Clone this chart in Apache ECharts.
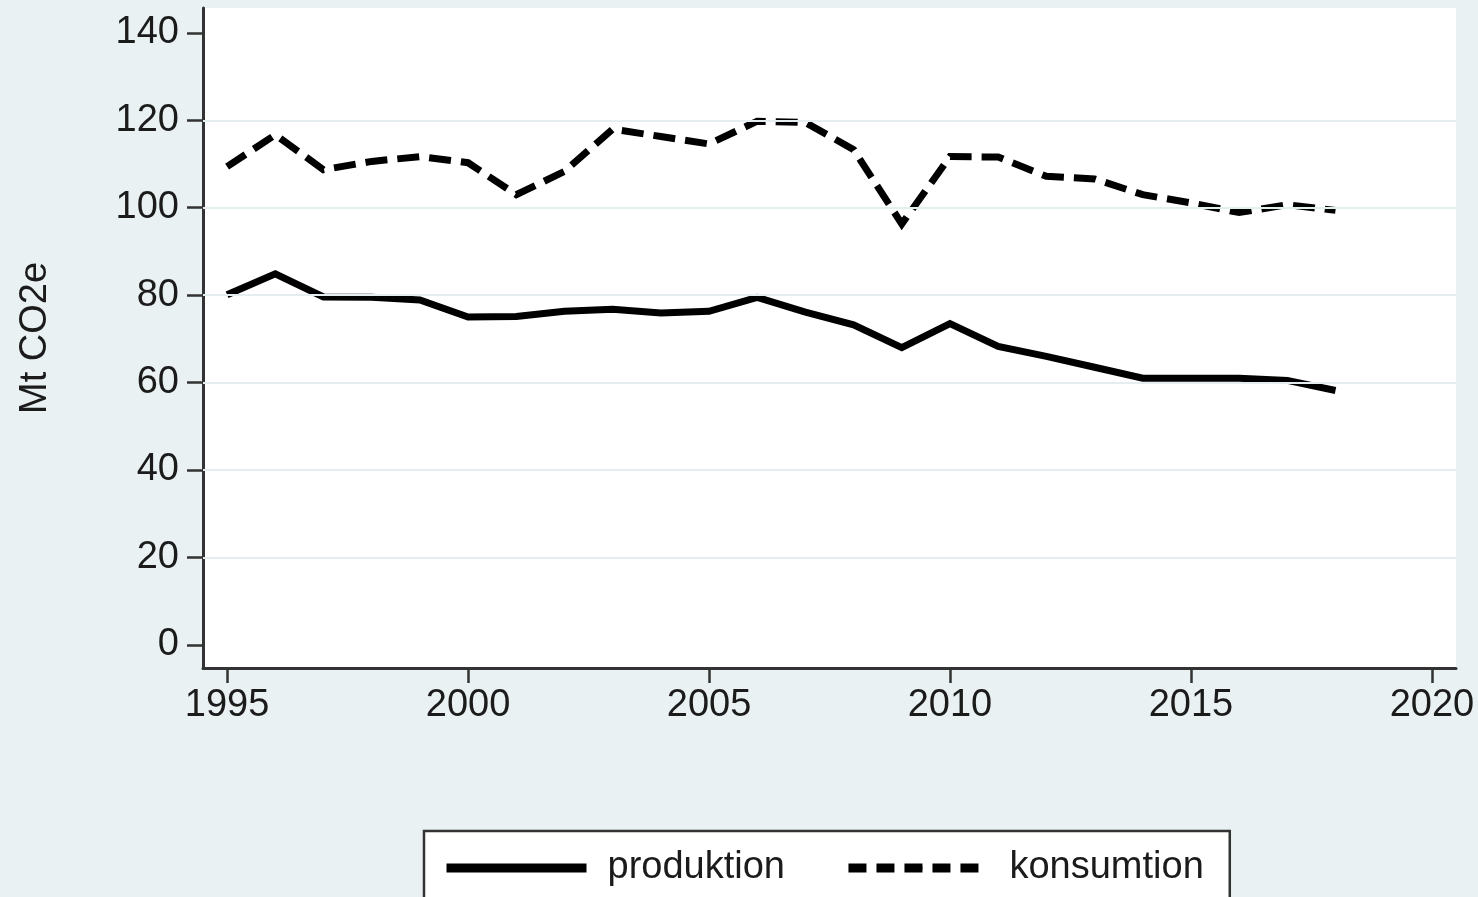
<!DOCTYPE html>
<html>
<head>
<meta charset="utf-8">
<script src="https://cdn.jsdelivr.net/npm/echarts@6/dist/echarts.min.js"></script>
<style>
  html, body { margin: 0; padding: 0; background: #e9f1f3; }
  #chart { width: 1478px; height: 897px; }
</style>
</head>
<body>
<div id="chart"></div>
<script>
// Annual emissions, Mt CO2e
const years = [1995, 1996, 1997, 1998, 1999, 2000, 2001, 2002, 2003, 2004, 2005, 2006,
               2007, 2008, 2009, 2010, 2011, 2012, 2013, 2014, 2015, 2016, 2017, 2018];
const produktion = [80.1, 84.9, 79.6, 79.5, 78.9, 75.0, 75.1, 76.3, 76.8, 75.9, 76.3, 79.5,
                    76.1, 73.2, 68.0, 73.5, 68.3, 66.0, 63.5, 61.0, 61.0, 61.0, 60.5, 58.2];
const konsumtion = [109.4, 116.7, 108.7, 110.6, 111.7, 110.3, 103.0, 108.3, 118.0, 116.3, 114.6, 119.8,
                    119.5, 113.3, 96.3, 111.7, 111.6, 107.2, 106.6, 103.0, 101.1, 98.9, 100.7, 99.4];

// Axis ticks and interior grid lines
const xTicks = [1995, 2000, 2005, 2010, 2015, 2020];
const yTicks = [0, 20, 40, 60, 80, 100, 120, 140];
const yGrid = [20, 40, 60, 80, 100, 120];

const textColor = '#1b1b1b';
const axisColor = '#333333';
const font = 'Liberation Sans, Arial, sans-serif';

const chart = echarts.init(document.getElementById('chart'), null, { renderer: 'canvas' });

chart.setOption({
  backgroundColor: '#e9f1f3',
  animation: false,
  grid: {
    left: 203, right: 22, top: 8, bottom: 229,
    show: true, backgroundColor: '#ffffff', borderWidth: 0
  },
  xAxis: {
    type: 'value',
    min: 1994.5, max: 2020.5,
    axisLine: { show: true, onZero: false, lineStyle: { color: axisColor, width: 3 } },
    axisTick: { show: true, length: 15, customValues: xTicks, lineStyle: { color: axisColor, width: 2.5 } },
    axisLabel: {
      customValues: xTicks, fontSize: 38, fontFamily: font, color: textColor, margin: 19,
      formatter: v => String(v)
    },
    splitLine: { show: false }
  },
  yAxis: {
    type: 'value',
    min: -5.3, max: 145.7,
    name: 'Mt CO2e',
    nameLocation: 'middle',
    nameRotate: 90,
    nameGap: 148,
    nameTextStyle: { fontSize: 38, fontFamily: font, color: textColor },
    axisLine: { show: true, onZero: false, lineStyle: { color: axisColor, width: 3 } },
    axisTick: { show: true, length: 16, customValues: yTicks, lineStyle: { color: axisColor, width: 2.5 } },
    axisLabel: {
      customValues: yTicks, fontSize: 38, fontFamily: font, color: textColor, margin: 24,
      formatter: v => String(v)
    },
    splitLine: { show: false }
  },
  legend: {
    data: [
      { name: 'produktion' },
      { name: 'konsumtion', lineStyle: { type: [18, 10] } }
    ],
    left: 424, top: 831,
    orient: 'horizontal',
    padding: [18, 26, 18, 18],
    backgroundColor: '#ffffff',
    borderColor: axisColor,
    borderWidth: 2.5,
    borderRadius: 0,
    itemWidth: 140,
    itemHeight: 10,
    itemGap: 59,
    lineStyle: { width: 9 },
    textStyle: { fontSize: 38, fontFamily: font, color: textColor, padding: [0, 0, 0, 16] }
  },
  series: [
    {
      // interior horizontal grid lines
      name: 'grid',
      type: 'line',
      data: [],
      z: 1,
      silent: true,
      markLine: {
        silent: true,
        symbol: 'none',
        label: { show: false },
        lineStyle: { color: '#e4edf0', width: 2, type: 'solid' },
        data: yGrid.map(v => ({ yAxis: v }))
      }
    },
    {
      name: 'produktion',
      type: 'line',
      z: 3,
      symbol: 'none',
      data: years.map((y, i) => [y, produktion[i]]),
      lineStyle: { color: '#000000', width: 7, type: 'solid', cap: 'butt', join: 'miter' },
      itemStyle: { color: '#000000' }
    },
    {
      name: 'konsumtion',
      type: 'line',
      z: 3,
      symbol: 'none',
      data: years.map((y, i) => [y, konsumtion[i]]),
      lineStyle: { color: '#000000', width: 7, type: [22, 10], cap: 'butt', join: 'miter' },
      itemStyle: { color: '#000000' }
    }
  ]
});
</script>
</body>
</html>
